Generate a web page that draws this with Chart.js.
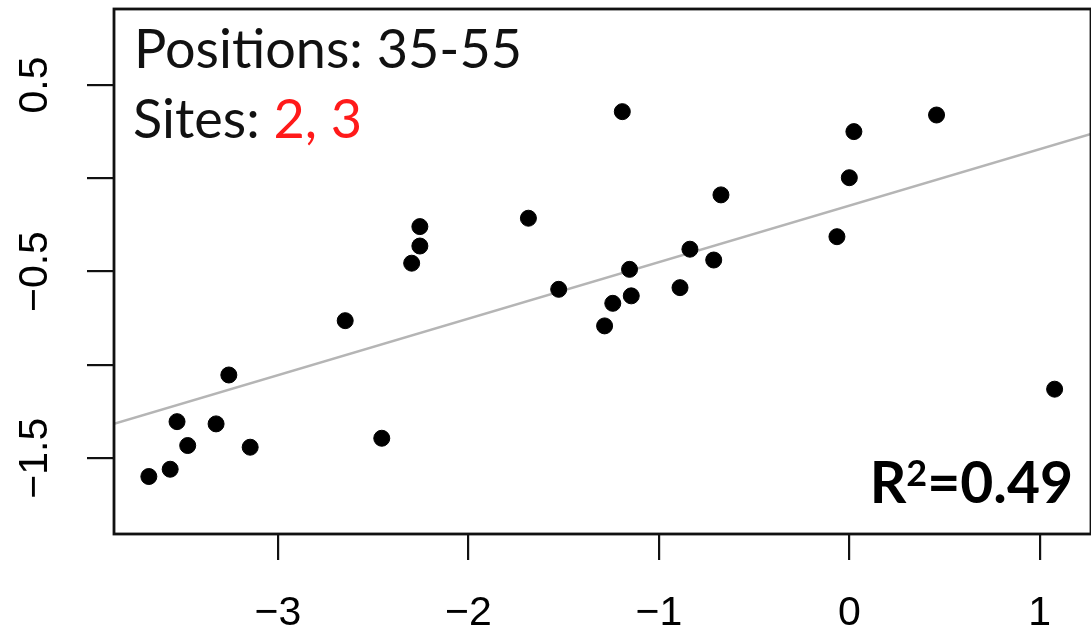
<!DOCTYPE html>
<html>
<head>
<meta charset="utf-8">
<script src="https://cdn.jsdelivr.net/npm/chart.js@4.4.1/dist/chart.umd.min.js"></script>
<style>
html,body{margin:0;padding:0;background:#fff;overflow:hidden;}
#wrap{position:relative;width:1100px;height:634px;}
</style>
</head>
<body>
<div id="wrap"><canvas id="c"></canvas></div>
<script>
// ---- data ----
const xValues = [-1.192, 0.458, 0.024, 0.000, -0.674, -0.065, -0.837, -0.712, -1.154, -1.526,
                 -0.889, -1.145, -1.242, -1.685, -1.285, 1.078, -2.255, -2.255, -2.298, -2.647,
                 -3.258, -3.530, -3.325, -3.474, -3.146, -2.455, -3.566, -3.678];
const yValues = [0.357, 0.339, 0.250, 0.003, -0.089, -0.313, -0.380, -0.438, -0.488, -0.595,
                 -0.586, -0.630, -0.670, -0.214, -0.791, -1.130, -0.259, -0.363, -0.455, -0.763,
                 -1.054, -1.304, -1.316, -1.432, -1.441, -1.393, -1.559, -1.598];
const fitX = [-3.861, 1.269];
const fitY = [-1.316, 0.238];
const xTicks = [-3, -2, -1, 0, 1];
const xTickLabels = ['\u22123', '\u22122', '\u22121', '0', '1'];
const yTicks = [0.5, 0, -0.5, -1, -1.5];
const yTickLabels = ['0.5', '', '\u22120.5', '', '\u22121.5'];
const positionsText = 'Positions: 35-55';
const sitesLabel = 'Sites: ';
const sitesValues = '2, 3';
const r2Value = '0.49';

const points = xValues.map((x, i) => ({x: x, y: yValues[i]}));
const fitLine = fitX.map((x, i) => ({x: x, y: fitY[i]}));

const frameAndText = {
  id: 'frameAndText',
  afterDraw(chart) {
    const ctx = chart.ctx, a = chart.chartArea;
    const ys = chart.scales.y;
    ctx.save();
    // box frame
    ctx.strokeStyle = '#111';
    ctx.lineWidth = 2.8;
    ctx.strokeRect(a.left, a.top, a.right - a.left, a.bottom - a.top);
    // rotated y tick labels
    ctx.fillStyle = '#000';
    ctx.font = '41px "Liberation Sans", Arial, sans-serif';
    ctx.textAlign = 'center';
    ctx.textBaseline = 'middle';
    yTicks.forEach((v, i) => {
      if (!yTickLabels[i]) return;
      ctx.save();
      ctx.translate(36, ys.getPixelForValue(v));
      ctx.rotate(-Math.PI / 2);
      ctx.fillText(yTickLabels[i], 0, 0);
      ctx.restore();
    });
    // annotations
    ctx.textAlign = 'left';
    ctx.textBaseline = 'alphabetic';
    ctx.font = '54px Lato, "Open Sans", sans-serif';
    ctx.fillStyle = '#111';
    ctx.fillText(positionsText, 134, 68);
    ctx.fillText(sitesLabel, 133, 138);
    const w = ctx.measureText(sitesLabel).width;
    ctx.fillStyle = '#ff1a1a';
    ctx.fillText(sitesValues, 133 + w, 138);
    // R^2
    ctx.fillStyle = '#000';
    const bigFont = 'bold 57px Lato, "Open Sans", sans-serif';
    const supFont = 'bold 36px Lato, "Open Sans", sans-serif';
    const rest = '=' + r2Value;
    ctx.font = bigFont;
    const wR = ctx.measureText('R').width;
    const wRest = ctx.measureText(rest).width;
    ctx.font = supFont;
    const wSup = ctx.measureText('2').width;
    const right = 1073, base = 503;
    let x0 = right - wRest - wSup - wR;
    ctx.font = bigFont;
    ctx.fillText('R', x0, base);
    ctx.font = supFont;
    ctx.fillText('2', x0 + wR, base - 17);
    ctx.font = bigFont;
    ctx.fillText(rest, x0 + wR + wSup, base);
    ctx.restore();
  }
};

new Chart(document.getElementById('c'), {
  type: 'scatter',
  data: {
    datasets: [
      {
        data: points,
        backgroundColor: '#000',
        borderColor: '#000',
        pointRadius: 8,
        pointHoverRadius: 8,
        order: 1
      },
      {
        type: 'line',
        data: fitLine,
        borderColor: '#b5b5b5',
        borderWidth: 2.5,
        pointRadius: 0,
        showLine: true,
        fill: false,
        order: 2
      }
    ]
  },
  options: {
    responsive: true,
    maintainAspectRatio: false,
    animation: false,
    events: [],
    layout: { padding: { top: 9, right: 5, left: 0, bottom: 0 } },
    plugins: { legend: { display: false }, tooltip: { enabled: false } },
    scales: {
      x: {
        type: 'linear',
        min: -3.861,
        max: 1.269,
        afterBuildTicks(s) { s.ticks = xTicks.map(v => ({value: v})); },
        afterFit(s) { s.height = 100; },
        border: { display: false },
        grid: { drawOnChartArea: false, drawTicks: true, tickLength: 26, color: '#111', lineWidth: 2.2 },
        ticks: {
          color: '#000',
          padding: 29,
          maxRotation: 0,
          autoSkip: false,
          font: { family: '"Liberation Sans", Arial, sans-serif', size: 41 },
          callback(v) { const i = xTicks.indexOf(v); return i >= 0 ? xTickLabels[i] : ''; }
        }
      },
      y: {
        type: 'linear',
        min: -1.906,
        max: 0.907,
        afterBuildTicks(s) { s.ticks = yTicks.map(v => ({value: v})); },
        afterFit(s) { s.width = 114; },
        border: { display: false },
        grid: { drawOnChartArea: false, drawTicks: true, tickLength: 27, color: '#111', lineWidth: 2.2 },
        ticks: { display: false }
      }
    }
  },
  plugins: [frameAndText]
});
</script>
</body>
</html>
